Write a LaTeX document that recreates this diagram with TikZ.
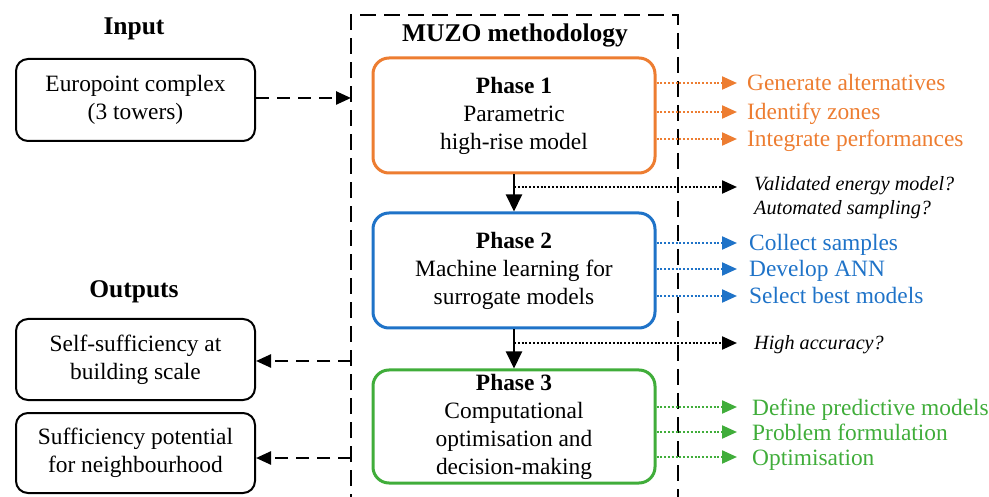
\documentclass[tikz,border=0pt]{standalone}
\usepackage{fontspec}
\setmainfont{Liberation Serif}
\usetikzlibrary{arrows.meta}
\definecolor{orgc}{RGB}{237,125,49}
\definecolor{bluc}{RGB}{31,115,200}
\definecolor{grnc}{RGB}{64,173,58}
\tikzset{
  txt/.style={font=\fontsize{23.4}{28}\selectfont, inner sep=0pt},
  itx/.style={font=\fontsize{20.2}{24}\selectfont\itshape, inner sep=0pt},
  ttl/.style={font=\fontsize{25.5}{30}\selectfont\bfseries, inner sep=0pt},
  iobox/.style={draw=black, line width=2pt, rounded corners=12pt, minimum width=239pt, align=center, font=\fontsize{23.4}{28}\selectfont, inner sep=2pt},
  phbox/.style={line width=3pt, rounded corners=16pt, minimum width=282pt, align=center, font=\fontsize{23.4}{28}\selectfont, inner sep=2pt},
  dsh/.style={line width=2.5pt, dash pattern=on 13pt off 8pt},
  dot/.style={line width=2.2pt, dash pattern=on 2pt off 1.8pt},
  tip/.style={-{Triangle[length=15pt,width=13pt]}},
  vtip/.style={-{Triangle[length=17pt,width=16pt]}},
}
\begin{document}
\begin{tikzpicture}[x=1pt,y=-1pt]
\useasboundingbox (0,0) rectangle (989,497);
\clip (0,0) rectangle (989,497);

% container
\draw[line width=2.5pt, dash pattern=on 16pt off 8pt] (351,510) -- (351,15) -- (678,15) -- (678,510);
\node[ttl, anchor=base] (muzo) at (515,42) {MUZO methodology};

% titles
\node[ttl, anchor=base] (tin) at (134,35) {Input};
\node[ttl, anchor=base] (tout) at (134,298) {Outputs};

% input / outputs
\node[iobox, minimum height=82pt] (inp) at (135.5,100) {Europoint complex\\(3 towers)};
\node[iobox, minimum height=81pt] (o1) at (135.5,359.5) {Self-sufficiency at\\building scale};
\node[iobox, minimum height=80pt] (o2) at (135.5,453) {Sufficiency potential\\for neighbourhood};

% phases
\node[phbox, draw=orgc, minimum height=115pt] (p1) at (514,115.5) {\textbf{Phase 1}\\Parametric\\high-rise model};
\node[phbox, draw=bluc, minimum height=115pt] (p2) at (514,270.5) {\textbf{Phase 2}\\Machine learning for\\surrogate models};
\node[phbox, draw=grnc, minimum height=113pt] (p3) at (514,426.5) {\textbf{Phase 3}\\Computational\\optimisation and\\decision-making};

% input/output connectors
\coordinate (ci) at (351,98);
\coordinate (c1) at (351,361);
\coordinate (c2) at (351,458);
\draw[dsh, tip] (inp.east |- ci) -- (ci);
\draw[dsh, tip] (c1) -- (o1.east |- c1);
\draw[dsh, tip] (c2) -- (o2.east |- c2);

% phase connectors
\draw[line width=2pt, vtip] (p1.south) -- (p2.north);
\draw[line width=2pt, vtip] (p2.south) -- (p3.north);

% questions
\coordinate (q1) at (514,187);
\coordinate (q1e) at (737,187);
\coordinate (q2) at (514,343);
\coordinate (q2e) at (737,343);
\draw[dot, tip] (q1) -- (q1e);
\draw[dot, tip] (q2) -- (q2e);
\node[itx, anchor=base west] (qt1) at (754,191) {Validated energy model?};
\node[itx, anchor=base west] (qt2) at (754,215) {Automated sampling?};
\node[itx, anchor=base west] (qt3) at (754,350) {High accuracy?};

% phase 1 tasks
\foreach \y/\n/\t in {83/a1/Generate alternatives, 112/a2/Identify zones, 139/a3/Integrate performances}{
  \coordinate (\n) at (737,\y);
  \draw[dot, orgc, tip] (p1.east |- \n) -- (\n);
  \node[txt, text=orgc, anchor=base west] (t\n) at (747,\y+8) {\t};
}
% phase 2 tasks
\foreach \y/\n/\t in {243/b1/Collect samples, 269/b2/Develop ANN, 296/b3/Select best models}{
  \coordinate (\n) at (737,\y);
  \draw[dot, bluc, tip] (p2.east |- \n) -- (\n);
  \node[txt, text=bluc, anchor=base west] (t\n) at (749,\y+8) {\t};
}
% phase 3 tasks
\foreach \y/\n/\t in {407/g1/Define predictive models, 432/g2/Problem formulation, 457/g3/Optimisation}{
  \coordinate (\n) at (737,\y);
  \draw[dot, grnc, tip] (p3.east |- \n) -- (\n);
  \node[txt, text=grnc, anchor=base west] (t\n) at (752,\y+8) {\t};
}
\end{tikzpicture}
\end{document}
